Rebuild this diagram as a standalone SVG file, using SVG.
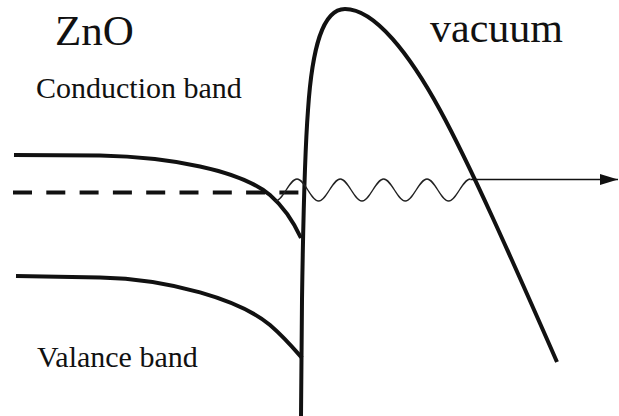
<svg xmlns="http://www.w3.org/2000/svg" width="619" height="416" viewBox="0 0 619 416">
<style>
.band{fill:none;stroke:#111;stroke-width:4;stroke-linecap:butt;stroke-linejoin:round}
.wave{fill:none;stroke:#222;stroke-width:1.4}
</style>
<defs>
<marker id="ah" markerUnits="userSpaceOnUse" markerWidth="18" markerHeight="12" refX="18" refY="6" orient="auto">
<polygon points="0,0.5 18,6 0,11.5" fill="#111"/>
</marker>
</defs>
<rect width="619" height="416" fill="#fff"/>
<g font-family="Liberation Serif, DejaVu Serif, serif" fill="#111">
<g id="label-zno"><text x="55" y="45" font-size="43">ZnO</text></g>
<g id="label-vacuum"><text x="430" y="42" font-size="42">vacuum</text></g>
<g id="label-cb"><text x="36" y="98" font-size="30">Conduction band</text></g>
<g id="label-vb"><text x="37" y="367" font-size="30">Valance band</text></g>
</g>
<g id="conduction-band"><path class="band" d="M14,155 L100,155.5 C170,157 240,170 270,195 C285,208 295,225 301,238"/></g>
<g id="valence-band"><path class="band" d="M16,276 L100,277.5 C170,279 240,300 270,325 C285,338 295,350 302,358"/></g>
<g id="fermi-level"><path class="band" d="M13,192.5 L300,192.5" stroke-dasharray="19 14.3"/></g>
<g id="barrier"><path class="band" d="M301,416 L302,300 C303,230 305,150 308,110 C312,50 322,9 345,9 C375,9 410,55 440,110 C470,165 510,255 557,362"/></g>
<g id="connectors">
<path class="wave" d="M275.3,201 C283.1,201 289.2,179 297,179 S310.8,201 318.6,201 S332.5,179 340.3,179 S354.2,201 362,201 S375.8,179 383.6,179 S397.5,201 405.3,201 S419.2,179 427,179 S440.8,201 448.6,201 S462.5,179 470.3,179"/>
<path d="M470.3,179.5 L618,179.5" stroke="#111" stroke-width="1.6" fill="none" marker-end="url(#ah)"/>
</g>
</svg>
